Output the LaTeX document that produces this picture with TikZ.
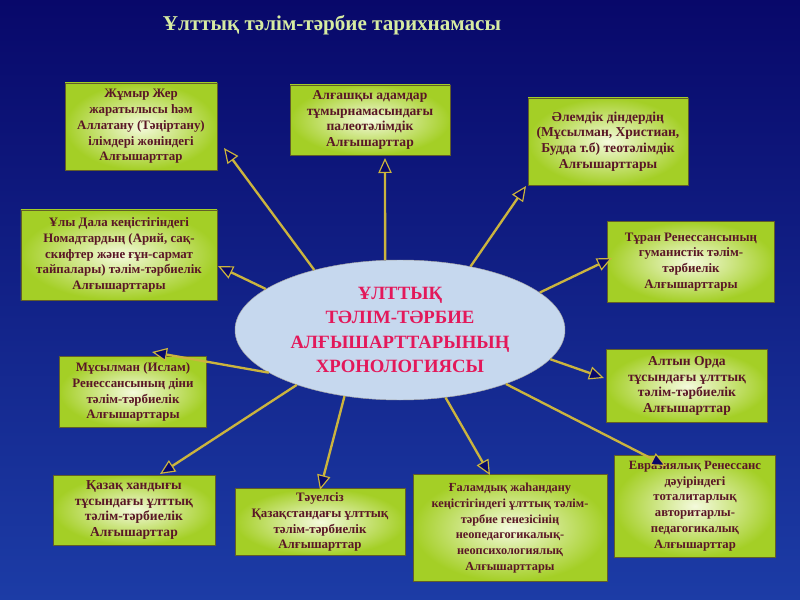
\documentclass[tikz,border=0pt]{standalone}
\usepackage{fontspec}
\setmainfont{Liberation Serif}
\usetikzlibrary{arrows.meta,shapes.geometric}
\definecolor{navytop}{HTML}{08086A}
\definecolor{navybot}{HTML}{1C3CA6}
\definecolor{titlegreen}{HTML}{D6EBA2}
\definecolor{boxin}{HTML}{F4FADC}
\definecolor{boxout}{HTML}{A4CF26}
\definecolor{boxtext}{HTML}{5A1626}
\definecolor{hubfill}{HTML}{C6D8EE}
\definecolor{hubtext}{HTML}{E3185A}
\definecolor{rayline}{HTML}{CBB43E}

\begin{document}
\begin{tikzpicture}[x=0.3mm, y=-0.3mm,
  src/.style={rectangle, draw=olive!60!black, line width=0.4pt, inner color=boxin, outer color=boxout,
    text=boxtext, font=\bfseries\fontsize{#1}{13.5}\selectfont, align=center, inner sep=2pt},
  src/.default=11,
  ray/.style={draw=rayline, line width=2pt,
    -{Triangle[length=4.5mm, width=4mm, line width=1pt, fill=navytop]}}]
  \fill[top color=navytop, bottom color=navybot] (0,0) rectangle (800,600);
  \node[text=titlegreen, font=\bfseries\fontsize{18}{22}\selectfont] (title) at (332,25) {Ұлттық тәлім-тәрбие тарихнамасы};

  \node[ellipse, draw=gray!70, fill=hubfill, minimum width=99mm, minimum height=42mm, inner sep=0pt,
    text=hubtext, font=\bfseries\fontsize{16}{21}\selectfont, align=center] (hub) at (400,330)
    {ҰЛТТЫҚ\\ТӘЛІМ-ТӘРБИЕ\\АЛҒЫШАРТТАРЫНЫҢ\\ХРОНОЛОГИЯСЫ};

  \node[src, minimum width=45.6mm, minimum height=26.1mm] (earth) at (141,126.5)
    {Жұмыр Жер\\жаратылысы һәм\\Аллатану (Тәңіртану)\\ілімдері жөніндегі\\Алғышарттар};
  \node[src=11.6, minimum width=48mm, minimum height=21mm] (paleo) at (370,120)
    {Алғашқы адамдар\\тұмырнамасындағы\\палеотәлімдік\\Алғышарттар};
  \node[src=11.6, minimum width=48mm, minimum height=26.1mm] (relig) at (608,141.5)
    {Әлемдік діндердің\\(Мұсылман, Христиан,\\Будда т.б) теотәлімдік\\Алғышарттары};
  \node[src, minimum width=58.8mm, minimum height=27mm] (steppe) at (119,255)
    {Ұлы Дала кеңістігіндегі\\Номадтардың (Арий, сақ-\\скифтер және ғұн-сармат\\тайпалары) тәлім-тәрбиелік\\Алғышарттары};
  \node[src, minimum width=50.1mm, minimum height=24.3mm] (turan) at (691,262)
    {Тұран Ренессансының\\гуманистік тәлім-\\тәрбиелік\\Алғышарттары};
  \node[src, minimum width=44.1mm, minimum height=21.3mm] (islam) at (133,392)
    {Мұсылман (Ислам)\\Ренессансының діни\\тәлім-тәрбиелік\\Алғышарттары};
  \node[src=11.6, minimum width=48.3mm, minimum height=21.9mm] (horde) at (687,386)
    {Алтын Орда\\тұсындағы ұлттық\\тәлім-тәрбиелік\\Алғышарттар};
  \node[src=11.6, minimum width=48.6mm, minimum height=21mm] (khan) at (134,510)
    {Қазақ хандығы\\тұсындағы ұлттық\\тәлім-тәрбиелік\\Алғышарттар};
  \node[src, minimum width=51mm, minimum height=20.1mm] (indep) at (320,522)
    {Тәуелсіз\\Қазақстандағы ұлттық\\тәлім-тәрбиелік\\Алғышарттар};
  \node[src=10.5, minimum width=58.2mm, minimum height=32.1mm] (global) at (510,528)
    {Ғаламдық жаһандану\\кеңістігіндегі ұлттық тәлім-\\тәрбие генезісінің\\неопедагогикалық-\\неопсихологиялық\\Алғышарттары};
  \node[src=10.8, minimum width=48.3mm, minimum height=30.6mm] (eurasia) at (695,506)
    {Евразиялық Ренессанс\\дәуіріндегі\\тоталитарлық\\авторитарлы-\\педагогикалық\\Алғышарттар};

  \coordinate (t1) at (224,148);
  \coordinate (t2) at (385,158);
  \coordinate (t3) at (526,186);
  \coordinate (t4) at (218,266);
  \coordinate (t5) at (612,258);
  \coordinate (t6) at (152,352);
  \coordinate (t7) at (604,378);
  \coordinate (t8) at (160,474);
  \coordinate (t9) at (320,490);
  \coordinate (t10) at (490,475);
  \coordinate (t11) at (666,466);

  \draw[ray] (hub.145) -- (t1);
  \draw[ray] (hub.102) -- (t2);
  \draw[ray] (hub.42) -- (t3);
  \draw[ray] (hub.163) -- (t4);
  \draw[ray] (hub.15) -- (t5);
  \draw[ray] (hub.198) -- (t6);
  \draw[ray] (hub.349) -- (t7);
  \draw[ray] (hub.208) -- (t8);
  \draw[ray] (hub.230) -- (t9);
  \draw[ray] (hub.304) -- (t10);
  \draw[ray] (hub.333) -- (t11);
\end{tikzpicture}
\end{document}
